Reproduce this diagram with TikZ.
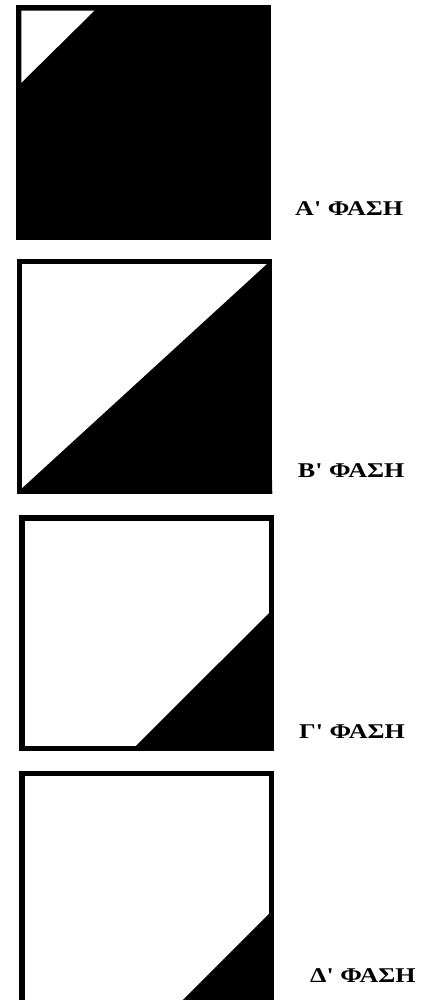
\documentclass[tikz,border=0pt]{standalone}
\usepackage{fontspec}
\setmainfont{Liberation Serif}[Ligatures=TeXOff]
\usepackage{graphicx}
\begin{document}
\begin{tikzpicture}[x=1pt,y=-1pt,
  frame/.style={draw=black,line width=5.5pt,line join=miter},
  phase/.style={anchor=base west,inner sep=0pt,font=\fontsize{21}{24}\selectfont\bfseries}]
\useasboundingbox (0,0) rectangle (431,1000);
\clip (0,0) rectangle (431,1000);
% Square 1
\fill[black] (16,5) rectangle (270.7,240);
\fill[white] (21.3,10.7) -- (94.3,10.7) -- (21.3,82.7) -- cycle;
% Square 2
\fill[white] (16.7,258.7) rectangle (272.3,493.6);
\fill[black] (266.8,264.2) -- (272.3,493.6) -- (22.2,488.1) -- cycle;
\fill[black] (266.8,264.2) rectangle (272.3,493.6);
\draw[frame] (19.45,261.45) rectangle (269.55,490.85);
% Square 3
\fill[white] (19.3,515) rectangle (274.3,751.3);
\fill[black] (268.8,613.3) -- (268.8,745.8) -- (136,745.8) -- cycle;
\draw[frame] (22.05,517.75) rectangle (271.55,748.55);
% Square 4
\fill[white] (19.3,770.7) rectangle (274.3,1007);
\fill[black] (268.8,914) -- (268.8,1001.5) -- (181.3,1001.5) -- cycle;
\draw[frame] (22.05,773.45) rectangle (271.55,1004.25);
% Labels
\node[phase] (la) at (295,215) {\scalebox{1.24}[1]{Α' ΦΑΣΗ}};
\node[phase] (lb) at (297.7,477) {\scalebox{1.24}[1]{Β' ΦΑΣΗ}};
\node[phase] (lc) at (299,738) {\scalebox{1.24}[1]{Γ' ΦΑΣΗ}};
\node[phase] (ld) at (310,982.3) {\scalebox{1.24}[1]{Δ' ΦΑΣΗ}};
\end{tikzpicture}
\end{document}
